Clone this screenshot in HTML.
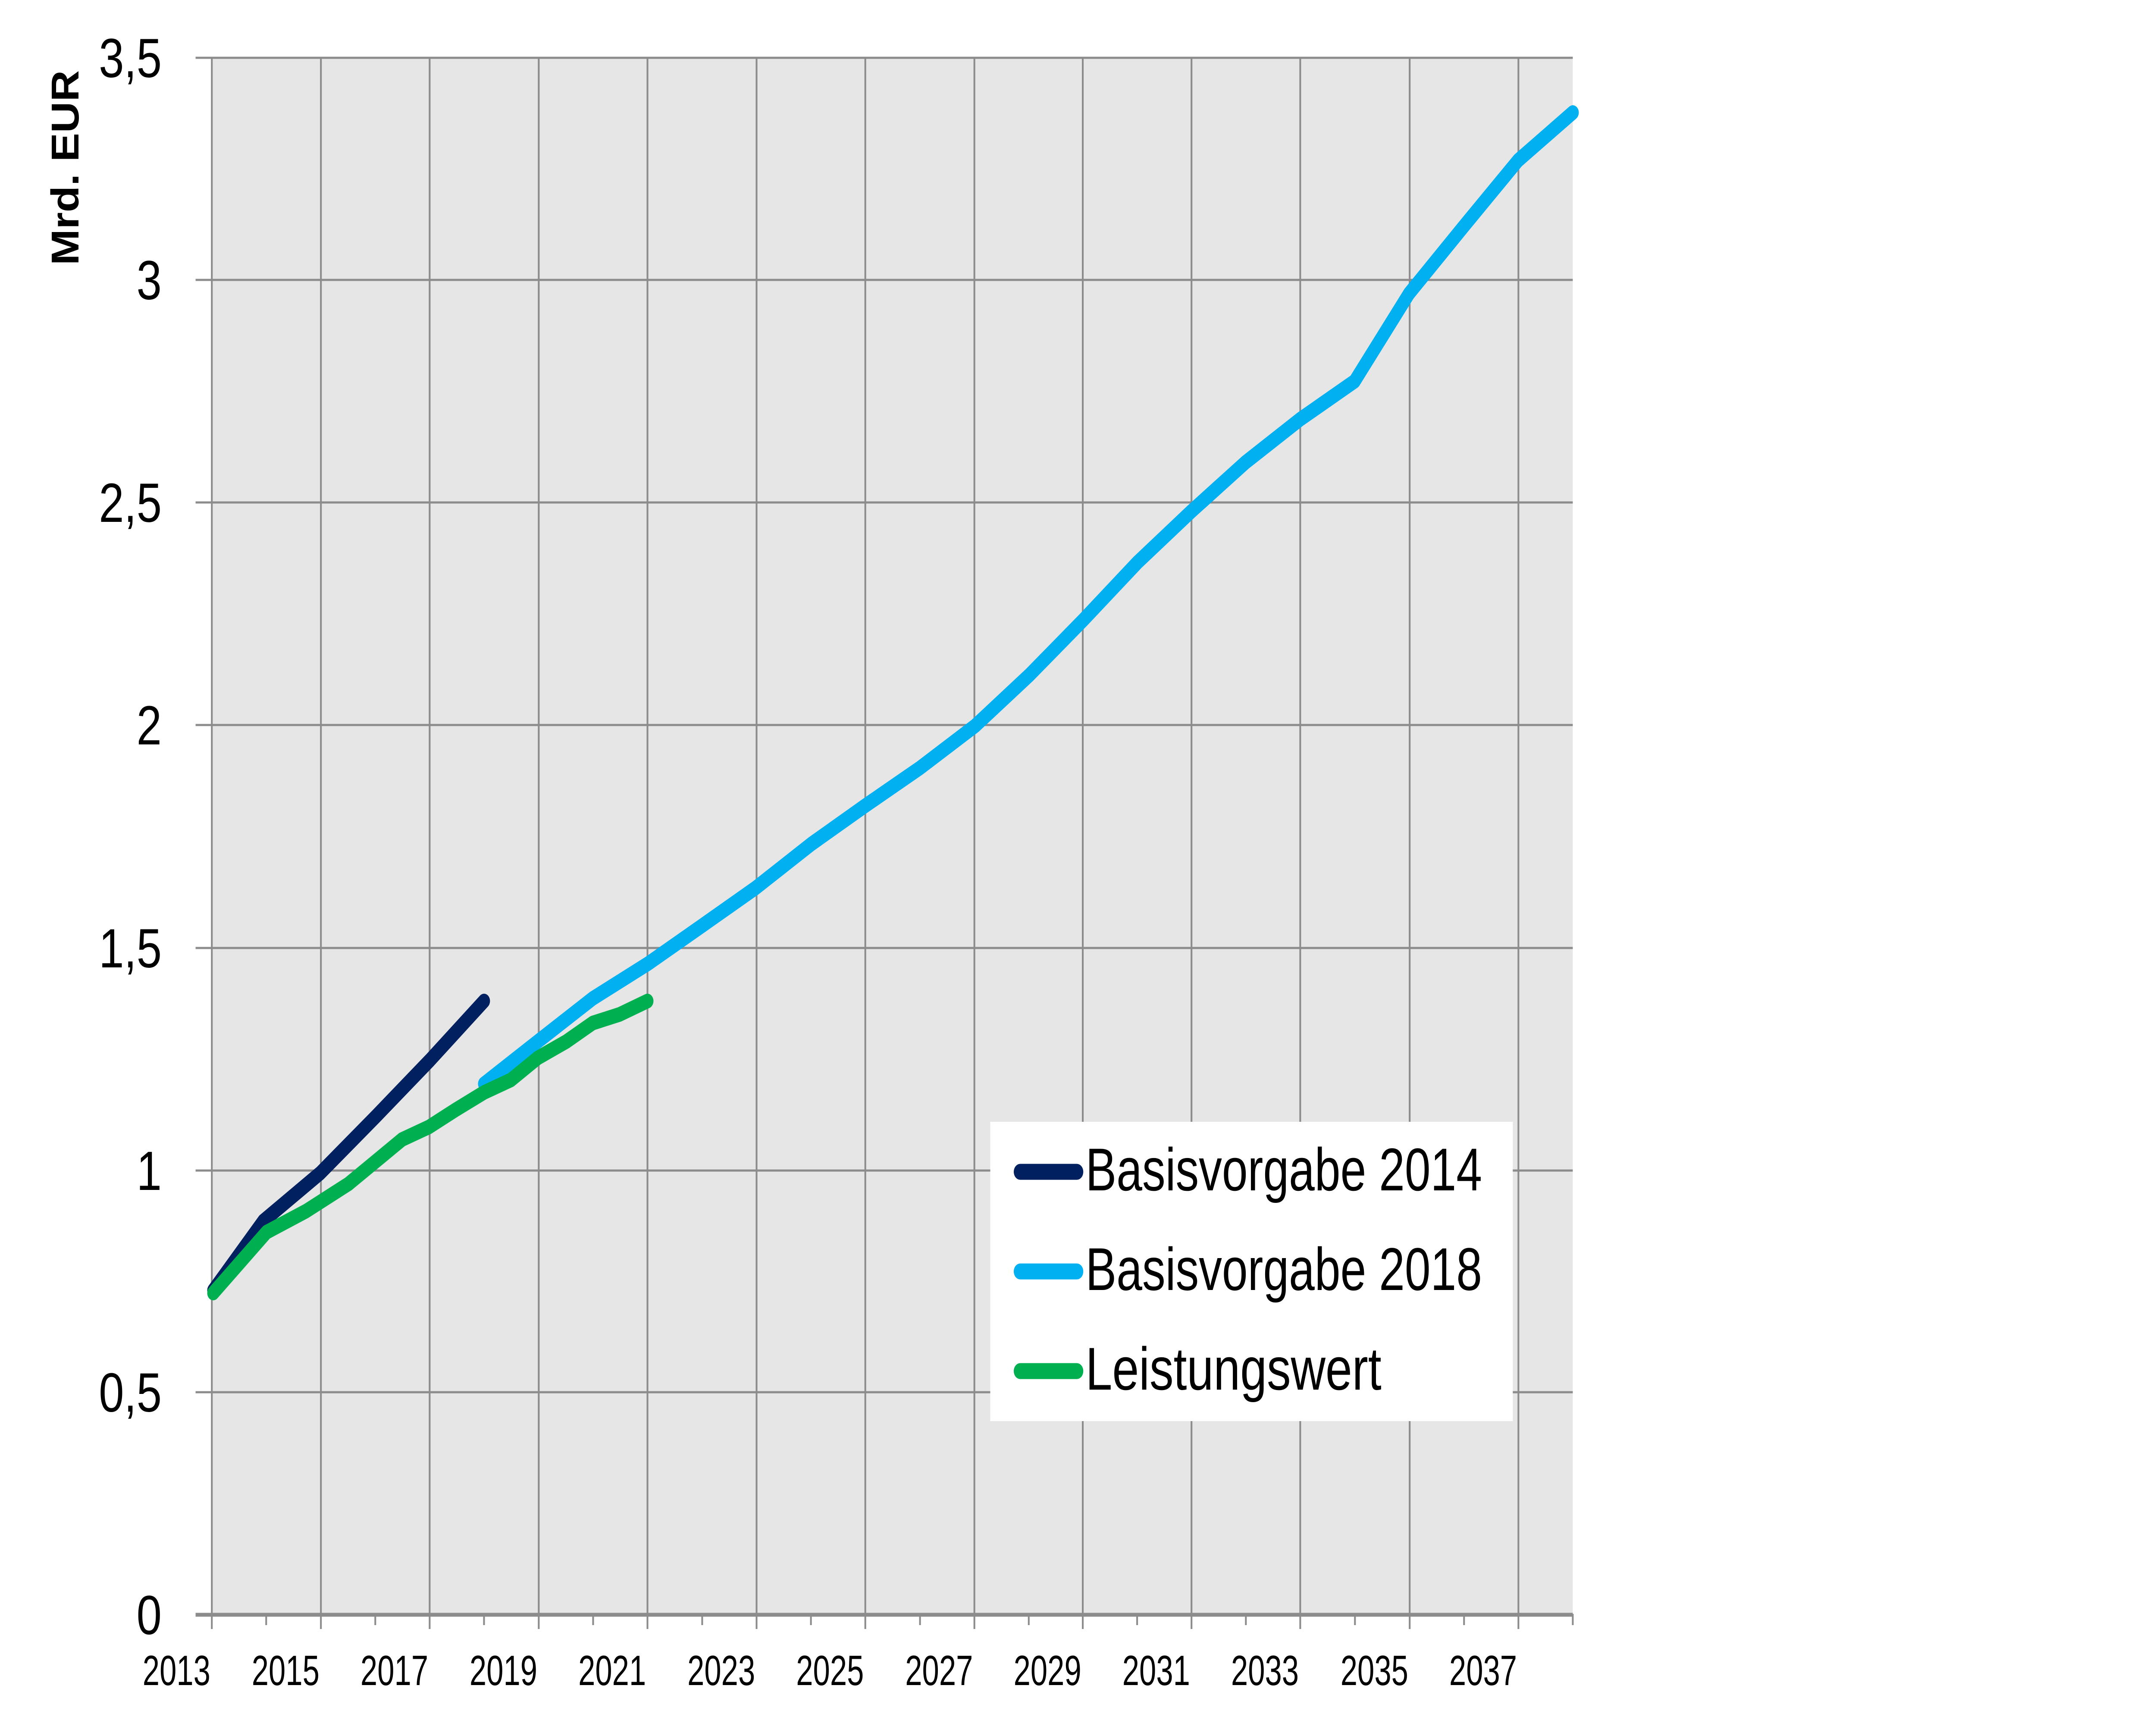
<!DOCTYPE html>
<html><head><meta charset="utf-8"><style>html,body{margin:0;padding:0;background:#fff;width:100%;height:100%;overflow:hidden}svg{display:block;position:absolute;left:0;top:0;width:100vw;height:100vh}</style></head>
<body>
<svg viewBox="0 0 6107 3988" preserveAspectRatio="none" xmlns="http://www.w3.org/2000/svg">
<rect x="0" y="0" width="6107" height="3988" fill="#fff"/>
<rect x="600" y="134" width="3855" height="3608" fill="#e6e6e6"/>
<g stroke="#8c8c8c" stroke-width="5">
<line x1="554" y1="134" x2="4455" y2="134"/>
<line x1="554" y1="649" x2="4455" y2="649"/>
<line x1="554" y1="1165" x2="4455" y2="1165"/>
<line x1="554" y1="1681" x2="4455" y2="1681"/>
<line x1="554" y1="2198" x2="4455" y2="2198"/>
<line x1="554" y1="2714" x2="4455" y2="2714"/>
<line x1="554" y1="3228" x2="4455" y2="3228"/>
<line x1="600" y1="134" x2="600" y2="3777"/>
<line x1="909" y1="134" x2="909" y2="3777"/>
<line x1="1217" y1="134" x2="1217" y2="3777"/>
<line x1="1526" y1="134" x2="1526" y2="3777"/>
<line x1="1834" y1="134" x2="1834" y2="3777"/>
<line x1="2143" y1="134" x2="2143" y2="3777"/>
<line x1="2451" y1="134" x2="2451" y2="3777"/>
<line x1="2760" y1="134" x2="2760" y2="3777"/>
<line x1="3067" y1="134" x2="3067" y2="3777"/>
<line x1="3375" y1="134" x2="3375" y2="3777"/>
<line x1="3683" y1="134" x2="3683" y2="3777"/>
<line x1="3993" y1="134" x2="3993" y2="3777"/>
<line x1="4301" y1="134" x2="4301" y2="3777"/>
<line x1="754" y1="3742" x2="754" y2="3768"/>
<line x1="1063" y1="3742" x2="1063" y2="3768"/>
<line x1="1371" y1="3742" x2="1371" y2="3768"/>
<line x1="1680" y1="3742" x2="1680" y2="3768"/>
<line x1="1989" y1="3742" x2="1989" y2="3768"/>
<line x1="2297" y1="3742" x2="2297" y2="3768"/>
<line x1="2606" y1="3742" x2="2606" y2="3768"/>
<line x1="2914" y1="3742" x2="2914" y2="3768"/>
<line x1="3221" y1="3742" x2="3221" y2="3768"/>
<line x1="3529" y1="3742" x2="3529" y2="3768"/>
<line x1="3838" y1="3742" x2="3838" y2="3768"/>
<line x1="4147" y1="3742" x2="4147" y2="3768"/>
<line x1="4455" y1="3742" x2="4455" y2="3768"/>
</g>
<line x1="554" y1="3744" x2="4455" y2="3744" stroke="#8c8c8c" stroke-width="9"/>
<g font-family="Liberation Sans, sans-serif" font-size="128" fill="#000" text-anchor="end">
<text x="458" y="179">3,5</text>
<text x="458" y="694">3</text>
<text x="458" y="1210">2,5</text>
<text x="458" y="1726">2</text>
<text x="458" y="2243">1,5</text>
<text x="458" y="2759">1</text>
<text x="458" y="3273">0,5</text>
<text x="458" y="3789">0</text>
</g>
<text transform="translate(222,389) rotate(-90)" font-family="Liberation Sans, sans-serif" font-weight="bold" font-size="110" text-anchor="middle" textLength="452" lengthAdjust="spacingAndGlyphs">Mrd. EUR</text>
<g font-family="Liberation Sans, sans-serif" font-size="98" fill="#000" text-anchor="middle">
<text x="500" y="3907" textLength="192" lengthAdjust="spacingAndGlyphs">2013</text>
<text x="809" y="3907" textLength="192" lengthAdjust="spacingAndGlyphs">2015</text>
<text x="1117" y="3907" textLength="192" lengthAdjust="spacingAndGlyphs">2017</text>
<text x="1426" y="3907" textLength="192" lengthAdjust="spacingAndGlyphs">2019</text>
<text x="1734" y="3907" textLength="192" lengthAdjust="spacingAndGlyphs">2021</text>
<text x="2043" y="3907" textLength="192" lengthAdjust="spacingAndGlyphs">2023</text>
<text x="2351" y="3907" textLength="192" lengthAdjust="spacingAndGlyphs">2025</text>
<text x="2660" y="3907" textLength="192" lengthAdjust="spacingAndGlyphs">2027</text>
<text x="2967" y="3907" textLength="192" lengthAdjust="spacingAndGlyphs">2029</text>
<text x="3275" y="3907" textLength="192" lengthAdjust="spacingAndGlyphs">2031</text>
<text x="3583" y="3907" textLength="192" lengthAdjust="spacingAndGlyphs">2033</text>
<text x="3893" y="3907" textLength="192" lengthAdjust="spacingAndGlyphs">2035</text>
<text x="4201" y="3907" textLength="192" lengthAdjust="spacingAndGlyphs">2037</text>
</g>
<g fill="none" stroke-width="34" stroke-linejoin="round" stroke-linecap="round">
<polyline stroke="#00b0f0" points="1371,2513 1523,2415 1679,2315 1836,2234 1991,2145 2140,2059 2298,1957 2451,1868 2605,1781 2762,1683 2916,1565 3069,1437 3222,1304 3374,1186 3528,1072 3683,972 3837,884 3991,681 4146,525 4300,372 4455,261"/>
<polyline stroke="#002060" points="604,2992 746,2831 907,2720 1063,2590 1218,2458 1371,2321"/>
<polyline stroke="#00b050" points="604,2998 755,2857 867,2808 987,2745 1139,2642 1215,2613 1291,2573 1371,2533 1447,2504 1523,2453 1604,2415 1679,2372 1755,2352 1834,2321"/>
</g>
<rect x="2805" y="2601" width="1480" height="694" fill="#fff"/>
<g stroke-width="37" stroke-linecap="round">
<line x1="2890" y1="2717" x2="3050" y2="2717" stroke="#002060"/>
<line x1="2890" y1="2948" x2="3050" y2="2948" stroke="#00b0f0"/>
<line x1="2890" y1="3179" x2="3050" y2="3179" stroke="#00b050"/>
</g>
<g font-family="Liberation Sans, sans-serif" font-size="140" fill="#000">
<text x="3075" y="2760" textLength="1123" lengthAdjust="spacingAndGlyphs">Basisvorgabe 2014</text>
<text x="3075" y="2991" textLength="1123" lengthAdjust="spacingAndGlyphs">Basisvorgabe 2018</text>
<text x="3075" y="3222" textLength="838" lengthAdjust="spacingAndGlyphs">Leistungswert</text>
</g>
</svg>
</body></html>
